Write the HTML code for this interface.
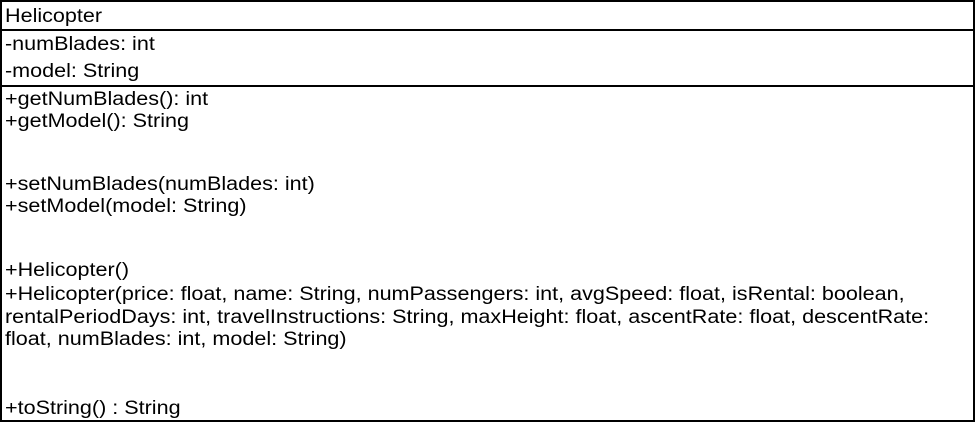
<!DOCTYPE html>
<html><head><meta charset="utf-8">
<style>
html,body{margin:0;padding:0;background:#fff;}
body{width:975px;height:422px;position:relative;overflow:hidden;font-family:"Liberation Sans",sans-serif;color:#000;}
.box{position:absolute;left:0;top:0;width:971px;height:418px;border:2px solid #000;border-right-width:3px;}
.hl{position:absolute;left:0;width:975px;height:2px;background:#000;}
.t{position:absolute;left:5px;font-size:19px;line-height:20px;white-space:nowrap;transform:scaleX(1.135);transform-origin:0 50%;}
</style></head><body>
<div class="box"></div>
<div class="hl" style="top:29px"></div>
<div class="hl" style="top:85px"></div>
<div class="t" style="top:7px">Helicopter</div>
<div class="t" style="top:35px">-numBlades: int</div>
<div class="t" style="top:62px">-model: String</div>
<div class="t" style="top:90px">+getNumBlades(): int</div>
<div class="t" style="top:112px">+getModel(): String</div>
<div class="t" style="top:175px">+setNumBlades(numBlades: int)</div>
<div class="t" style="top:197px">+setModel(model: String)</div>
<div class="t" style="top:261px">+Helicopter()</div>
<div class="t" style="top:285px">+Helicopter(price: float, name: String, numPassengers: int, avgSpeed: float, isRental: boolean,</div>
<div class="t" style="top:308px">rentalPeriodDays: int, travelInstructions: String, maxHeight: float, ascentRate: float, descentRate:</div>
<div class="t" style="top:330px">float, numBlades: int, model: String)</div>
<div class="t" style="top:399px">+toString() : String</div>
</body></html>
